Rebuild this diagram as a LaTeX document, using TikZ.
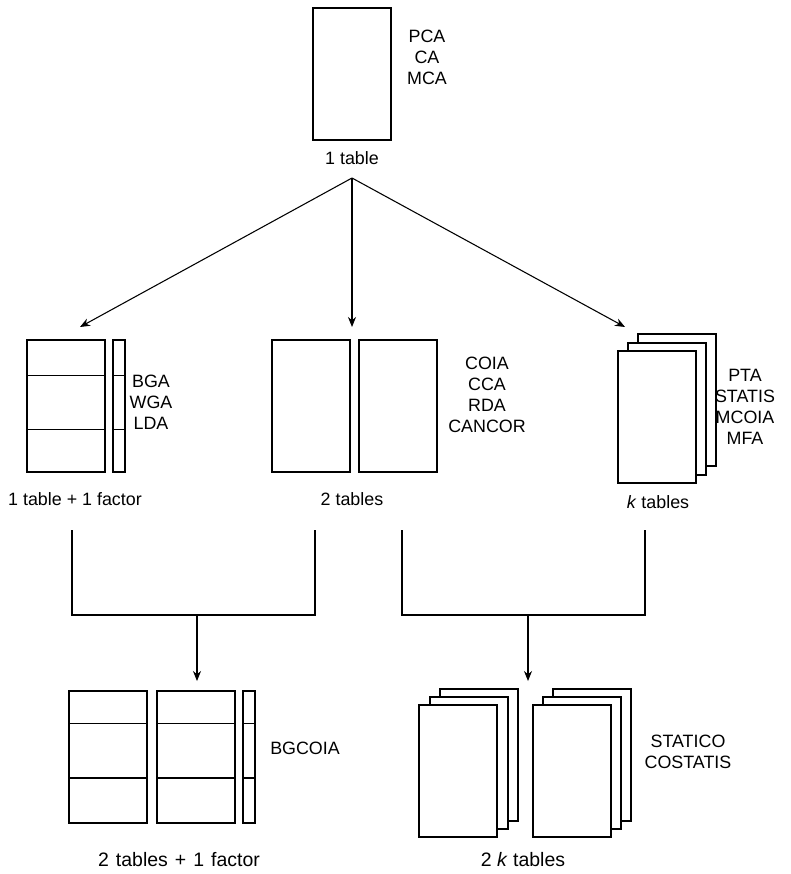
\documentclass[tikz,border=0pt]{standalone}
\usepackage{fontspec}
\setmainfont{Liberation Sans}
\usetikzlibrary{arrows.meta,calc}
\begin{document}
\begin{tikzpicture}[x=0.75pt,y=-0.75pt,
  tbl/.style={draw=black, line width=0.95pt, fill=white, minimum width=58.5pt, minimum height=99pt, anchor=north west, inner sep=0pt, outer sep=0pt},
  fct/.style={tbl, minimum width=9pt},
  lbl/.style={font=\fontsize{13.4}{15.75}\selectfont, align=center, inner sep=0pt},
  blbl/.style={font=\fontsize{14.6}{16}\selectfont, align=center, inner sep=0pt},
  conn/.style={line width=0.8pt},
  arr/.style={conn, -{Stealth[length=7.5pt,width=6pt]}},
  sep/.style={line width=1pt}
]
\useasboundingbox (0,0) rectangle (790,874);

% top
\node[tbl] (top) at (313,8) {};
\node[lbl] (topm) at (427,57) {PCA\\CA\\MCA};
\node[lbl] (topl) at (352,158) {1 table};
\coordinate (apex) at (352,178);
\coordinate (eL) at (80,327);
\coordinate (eM) at (352,327);
\coordinate (eR) at (625,327);
\draw[arr] (apex) -- (eL);
\draw[arr] (apex) -- (eM);
\draw[arr] (apex) -- (eR);

% left group
\node[tbl] (L1) at (27,340) {};
\node[fct] (Lf) at (113,340) {};
\foreach \n in {L1,Lf}{
  \draw[sep] ($(\n.north west)!0.27!(\n.south west)$) -- ($(\n.north east)!0.27!(\n.south east)$);
  \draw[sep] ($(\n.north west)!0.68!(\n.south west)$) -- ($(\n.north east)!0.68!(\n.south east)$);
}
\node[lbl] (Lm) at (151,402) {BGA\\WGA\\LDA};
\node[lbl] (Ll) at (75,499) {1 table + 1 factor};

% middle group
\node[tbl] (M1) at (272,340) {};
\node[tbl] (M2) at (359,340) {};
\node[lbl] (Mm) at (487,395) {COIA\\CCA\\RDA\\CANCOR};
\node[lbl] (Ml) at (352,499) {2 tables};

% right group
\node[tbl] (R3) at (638,334) {};
\node[tbl] (R2) at (628,343) {};
\node[tbl] (R1) at (618,351) {};
\node[lbl] (Rm) at (745,407) {PTA\\STATIS\\MCOIA\\MFA};
\node[lbl] (Rl) at (658,502) {\textit{k} tables};

% brackets
\coordinate (b1a) at (72,530);
\coordinate (b1b) at (72,615);
\coordinate (b1c) at (315,615);
\coordinate (b1d) at (315,530);
\coordinate (b1m) at (197,615);
\coordinate (b1e) at (197,681);
\draw[conn] (b1a) -- (b1b) -- (b1c) -- (b1d);
\draw[arr] (b1m) -- (b1e);
\coordinate (b2a) at (402,530);
\coordinate (b2b) at (402,615);
\coordinate (b2c) at (645,615);
\coordinate (b2d) at (645,530);
\coordinate (b2m) at (528,615);
\coordinate (b2e) at (528,681);
\draw[conn] (b2a) -- (b2b) -- (b2c) -- (b2d);
\draw[arr] (b2m) -- (b2e);

% bottom left
\node[tbl] (B1) at (69,691) {};
\node[tbl] (B2) at (157,691) {};
\node[fct] (Bf) at (243,691) {};
\foreach \n in {B1,B2,Bf}{
  \draw[sep] ($(\n.north west)!0.245!(\n.south west)$) -- ($(\n.north east)!0.245!(\n.south east)$);
  \draw[sep] ($(\n.north west)!0.66!(\n.south west)$) -- ($(\n.north east)!0.66!(\n.south east)$);
}
\node[lbl] (Bm) at (305,748) {BGCOIA};
\node[blbl] (Bl) at (179,860) {2\hspace{0.36em}tables\hspace{0.36em}+\hspace{0.36em}1\hspace{0.36em}factor};

% bottom right
\node[tbl] (S13) at (440,689) {};
\node[tbl] (S12) at (430,697) {};
\node[tbl] (S11) at (419,705) {};
\node[tbl] (S23) at (553,689) {};
\node[tbl] (S22) at (543,697) {};
\node[tbl] (S21) at (533,705) {};
\node[lbl] (Sm) at (688,752) {STATICO\\COSTATIS};
\node[blbl] (Sl) at (523,860) {2 \textit{k} tables};
\end{tikzpicture}
\end{document}
